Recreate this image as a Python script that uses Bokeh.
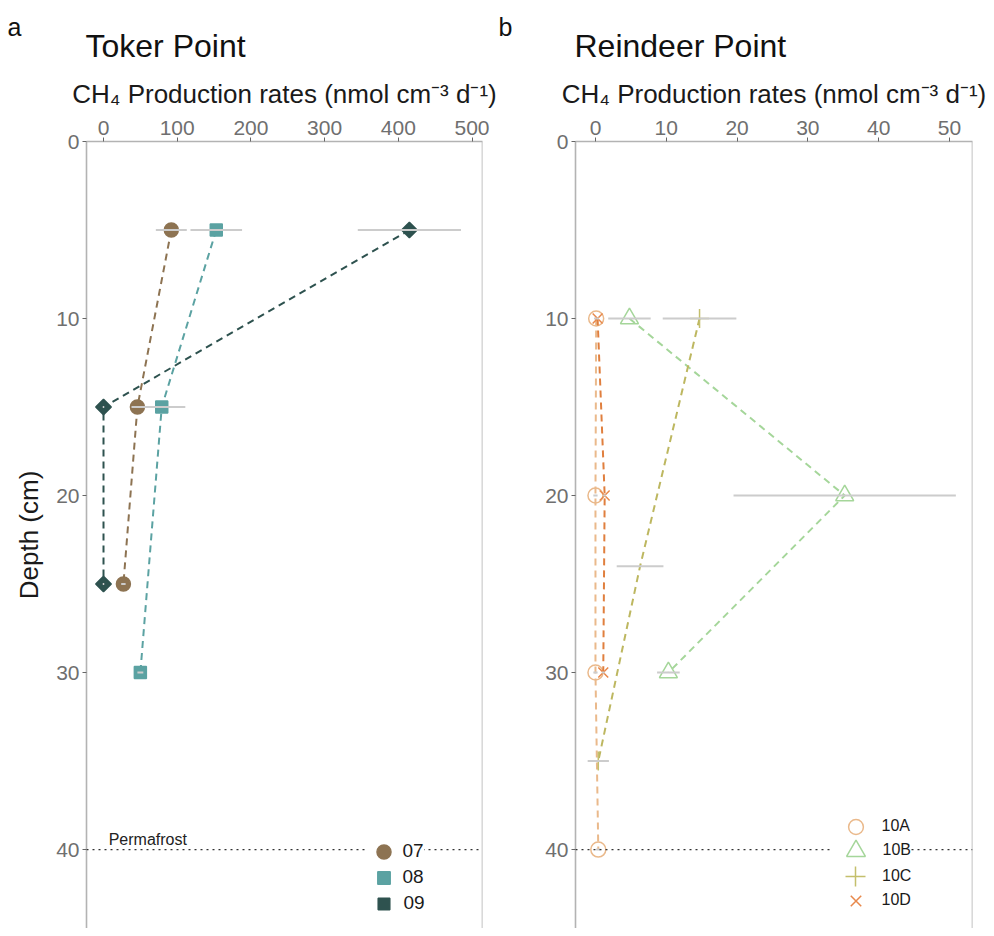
import numpy as np
from bokeh.plotting import figure
from bokeh.models import Range1d, Span, Label, Legend, LegendItem, FixedTicker
from bokeh.layouts import row, column
from bokeh.embed import file_html
from bokeh.resources import INLINE

FONT = "Liberation Sans"

# ---------------- data: Toker Point ----------------
depth_07 = [5, 15, 25]
rate_07 = [92, 46, 27]
sd_07 = [21, 8, 3]

depth_08 = [5, 15, 30]
rate_08 = [153, 79, 50]
sd_08 = [35, 32, 4]

depth_09 = [5, 15, 25]
rate_09 = [415, 0, 0]
sd_09 = [70, 1, 1]

# ---------------- data: Reindeer Point ----------------
depth_10A = [10, 20, 30, 40]
rate_10A = [0.1, 0.0, 0.0, 0.4]
sd_10A = [0.3, 0.3, 0.3, 0.3]

depth_10B = [10, 20, 30]
rate_10B = [4.8, 35.2, 10.3]
sd_10B = [3.0, 15.7, 1.6]

depth_10C = [10, 24, 35]
rate_10C = [14.7, 6.3, 0.4]
sd_10C = [5.2, 3.3, 1.5]
shown_10C = [True, False, True]

depth_10D = [10, 20, 30]
rate_10D = [0.3, 1.3, 1.1]
sd_10D = [0.2, 0.2, 0.2]

labels_a = ["07", "08", "09"]
labels_b = ["10A", "10B", "10C", "10D"]
ticks_a = [0, 100, 200, 300, 400, 500]
ticks_b = [0, 10, 20, 30, 40, 50]
depth_ticks = [0, 10, 20, 30, 40]
permafrost_depth = 40

XLABEL = "CH\u2084 Production rates (nmol cm\u207b\u00b3 d\u207b\u00b9)"

AXIS_GREY = "#b3b3b3"
TICK_TEXT = "#6f6f6f"
ERR = "#cccccc"
HEADER_H = 70
FRAME_H = 787
FRAME_TOP = 141
FRAME_BOTTOM = FRAME_TOP + FRAME_H
Y_END = 44.46


def base_panel(xr, ticks, min_left, min_right, frame_w, show_ylabel):
    p = figure(frame_width=frame_w, frame_height=FRAME_H,
               x_range=Range1d(*xr), y_range=Range1d(Y_END, 0),
               x_axis_location="above", output_backend="svg",
               toolbar_location=None, min_border_left=min_left,
               min_border_right=min_right,
               min_border_top=FRAME_TOP - HEADER_H,
               min_border_bottom=0, background_fill_color="white",
               border_fill_color="white", outline_line_color=None)
    p.grid.visible = False
    for ax in (p.xaxis[0], p.yaxis[0]):
        ax.axis_line_color = AXIS_GREY
        ax.axis_line_width = 1.6
        ax.major_tick_line_color = "#666666"
        ax.major_tick_line_width = 1
        ax.major_tick_in = 0
        ax.major_tick_out = 4
        ax.minor_tick_line_color = None
        ax.major_label_text_font = FONT
        ax.major_label_text_font_size = "21px"
        ax.major_label_text_color = TICK_TEXT
        ax.major_label_standoff = 3
        ax.axis_label_text_font = FONT
        ax.axis_label_text_font_style = "normal"
        ax.axis_label_text_color = "#1a1a1a"
        ax.axis_label_text_font_size = "26px"
    p.xaxis[0].ticker = FixedTicker(ticks=ticks)
    p.yaxis[0].ticker = FixedTicker(ticks=depth_ticks)
    p.xaxis[0].axis_label = XLABEL
    p.xaxis[0].axis_label_standoff = 9
    if show_ylabel:
        p.yaxis[0].axis_label = "Depth (cm)"
        p.yaxis[0].axis_label_standoff = 9
    p.add_layout(Span(location=xr[1], dimension="height",
                      line_color=AXIS_GREY, line_width=1.6))
    p.add_layout(Span(location=permafrost_depth, dimension="width",
                      line_color="#333333", line_width=1.2, line_dash="2 4"))
    return p


def series(p, x, y, sd, color, marker, size, filled, lw=1.5, angle=0.0,
           shown=None, line_color=None):
    lc = line_color or color
    p.line(x, y, line_color=lc, line_width=2, line_dash="7 5")
    if shown is None:
        shown = [True] * len(x)
    xs = [a for a, s in zip(x, shown) if s]
    ys = [a for a, s in zip(y, shown) if s]
    r = p.scatter(xs, ys, marker=marker, size=size, angle=angle,
                  fill_color=color if filled else None,
                  line_color=color, line_width=lw)
    x0 = [a - b for a, b in zip(x, sd)]
    x1 = [a + b for a, b in zip(x, sd)]
    p.segment(x0=x0, y0=y, x1=x1, y1=y, line_color=ERR, line_width=2)
    return r


def legend_entry(p, frame_left, label, rend, cx, cy, box, label_left,
                 font_size, white):
    # one legend row: glyph box of size `box` centred at page (cx, cy)
    vx = cx - box / 2 - frame_left
    vy = FRAME_BOTTOM - (cy + box / 2)
    standoff = int(round(label_left - (cx + box / 2)))
    leg = Legend(items=[LegendItem(label=label, renderers=[rend])],
                 location=(vx, vy), padding=0, margin=0, spacing=0,
                 glyph_width=box, glyph_height=box, label_height=box,
                 label_standoff=standoff, label_text_font=FONT,
                 label_text_font_size=font_size, label_text_color="#1a1a1a",
                 label_text_baseline="middle",
                 border_line_color=None, background_fill_color="white",
                 background_fill_alpha=1.0 if white else 0.0)
    p.add_layout(leg)


# ---------------- header (panel letters and site titles) ----------------
header = figure(width=986, height=HEADER_H, x_range=Range1d(0, 986),
                y_range=Range1d(0, HEADER_H), output_backend="svg",
                toolbar_location=None, min_border=0,
                outline_line_color=None, border_fill_color="white")
header.axis.visible = False
header.grid.visible = False
for txt, x, base, size in [("a", 7, 35, 25),
                           ("Toker Point", 85, 57, 32),
                           ("b", 498, 35, 25),
                           ("Reindeer Point", 574, 57, 32)]:
    header.add_layout(Label(x=x, y=HEADER_H - base + round(0.37 * size),
                            x_units="screen", y_units="screen", text=txt,
                            text_font=FONT, text_font_size=f"{size}px",
                            text_color="#111111",
                            text_baseline="alphabetic"))

# ---------------- panel a ----------------
pa = base_panel((-23.07, 514.2), ticks_a, 86, 20, 396, True)
c07, c08, c09 = "#8d7352", "#5ba2a2", "#2e524f"
r07 = series(pa, rate_07, depth_07, sd_07, c07, "circle", 14, True)
r08 = series(pa, rate_08, depth_08, sd_08, c08, "square", 12, True)
r09 = series(pa, rate_09, depth_09, sd_09, c09, "square", 11, True,
             angle=np.pi / 4)
pa.add_layout(Label(x=7, y=permafrost_depth, y_offset=10, text="Permafrost",
                    text_font=FONT, text_font_size="16px",
                    text_color="#222222", text_baseline="alphabetic"))
legend_entry(pa, 86, labels_a[0], r07, 383, 851, 35, 403, "19px", True)
legend_entry(pa, 86, labels_a[1], r08, 383, 877, 31, 403, "19px", False)
legend_entry(pa, 86, labels_a[2], r09, 383, 903, 29, 403, "19px", False)

# ---------------- panel b ----------------
pb = base_panel((-2.82, 53.25), ticks_b, 73, 14, 397, False)
cA, cB, cC, cD = "#eab98b", "#a5d69a", "#c4bf6c", "#e8884b"
rA = series(pb, rate_10A, depth_10A, sd_10A, cA, "circle", 15, False)
rB = series(pb, rate_10B, depth_10B, sd_10B, cB, "triangle", 18, False)
rC = series(pb, rate_10C, depth_10C, sd_10C, cC, "cross", 19, False,
            shown=shown_10C, line_color="#bdb760")
rD = series(pb, rate_10D, depth_10D, sd_10D, cD, "x", 14, False,
            line_color="#e07f3e")
legend_entry(pb, 575, labels_b[1], rB, 855, 850, 47, 882, "16px", True)
legend_entry(pb, 575, labels_b[0], rA, 855, 826, 37, 882, "16px", False)
legend_entry(pb, 575, labels_b[2], rC, 855, 876, 50, 882, "16px", False)
legend_entry(pb, 575, labels_b[3], rD, 855, 900, 37, 882, "16px", False)

layout = column(header, row(pa, pb, spacing=0), spacing=0)
open("out.html", "w").write(file_html(layout, INLINE))
